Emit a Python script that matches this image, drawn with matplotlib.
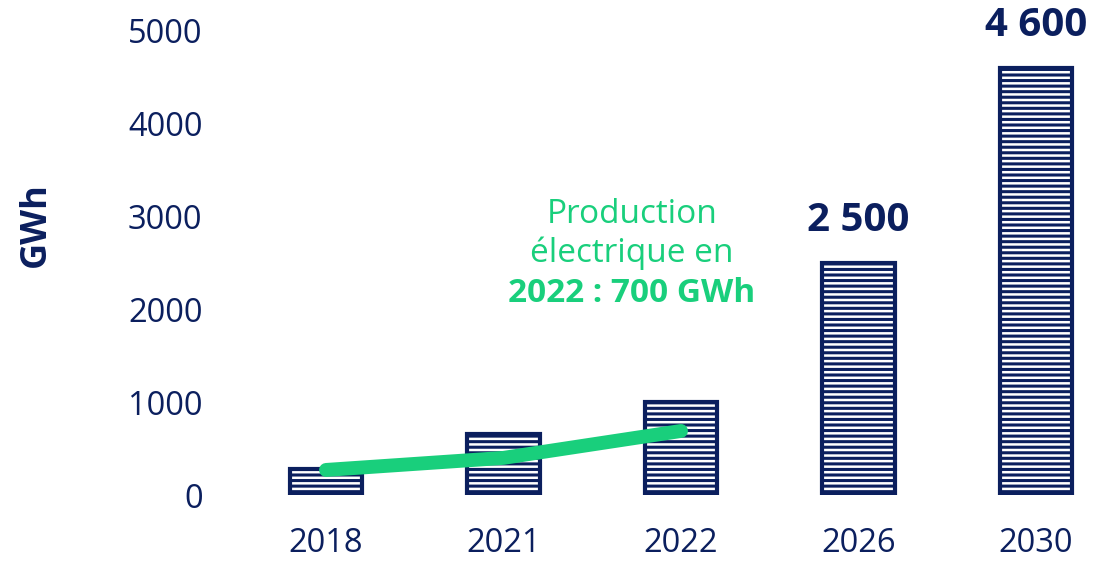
import matplotlib
matplotlib.use("Agg")
import matplotlib.pyplot as plt
from matplotlib import font_manager as fm
import os

years = ["2018", "2021", "2022", "2026", "2030"]
capacity = [280, 660, 1000, 2500, 4600]
labels = {3: "2 500", 4: "4 600"}
prod_years_idx = [0, 1, 2]
production = [270, 400, 690]

navy = "#0B1F5E"
green = "#19CF7C"

files = fm.findSystemFonts()
def pick(pred):
    for f in sorted(files):
        b = os.path.basename(f).lower()
        if pred(b):
            return f
    return None

def plain(b):
    return (b.startswith("opensans") and "condensed" not in b and "semi" not in b
            and "italic" not in b and "extra" not in b and "light" not in b
            and "medium" not in b)

reg = pick(lambda b: plain(b) and "regular" in b) or \
      pick(lambda b: plain(b) and "bold" not in b)
bold = pick(lambda b: plain(b) and b.endswith("bold.ttf"))

fp_reg = fm.FontProperties(fname=reg) if reg else fm.FontProperties(family="Open Sans")
fp_bold = fm.FontProperties(fname=bold) if bold else fm.FontProperties(family="Open Sans", weight="bold")

plt.rcParams['font.family'] = ['Open Sans', 'DejaVu Sans']
plt.rcParams['hatch.linewidth'] = 2.2
plt.rcParams['hatch.color'] = navy

fig = plt.figure(figsize=(10.95, 5.61), dpi=100)
ax = fig.add_axes([240/1095, 1-495/561, (1090-240)/1095, (495-31)/561])

x = list(range(len(years)))
ax.bar(x, capacity, width=0.41, facecolor="white", edgecolor=navy,
       linewidth=3, hatch="---")
ax.plot(prod_years_idx, production, color=green, linewidth=10,
        solid_capstyle="round", solid_joinstyle="round", zorder=5)

def fprop(base, size):
    p = base.copy()
    p.set_size(size)
    return p

for i, t in labels.items():
    ax.text(i, capacity[i] + 250, t, ha="center", va="bottom",
            fontproperties=fprop(fp_bold, 29), color=navy, clip_on=False)

ax.text(1.724, 2931, "Production", ha="center", va="baseline",
        fontproperties=fprop(fp_reg, 24), color=green)
ax.text(1.724, 2511, "électrique en", ha="center", va="baseline",
        fontproperties=fprop(fp_reg, 24), color=green)
ax.text(1.724, 2080, "2022 : 700 GWh", ha="center", va="baseline",
        fontproperties=fprop(fp_bold, 24), color=green)

ax.set_xlim(-0.4845, 4.304)
ax.set_ylim(0, 5000)
ax.set_yticks([0, 1000, 2000, 3000, 4000, 5000])
ax.set_xticks(x)
ax.set_xticklabels(years)
ax.tick_params(axis="both", length=0, labelcolor=navy)
ax.tick_params(axis="y", pad=27)
ax.tick_params(axis="x", pad=23)
for lab in ax.get_xticklabels() + ax.get_yticklabels():
    lab.set_fontproperties(fprop(fp_reg, 23.5))
for s in ax.spines.values():
    s.set_visible(False)
ax.set_ylabel("GWh", fontproperties=fprop(fp_bold, 26), color=navy, labelpad=0)
ax.yaxis.set_label_coords(-(240-54)/850, (495-225)/464)

fig.savefig("out.png", dpi=100)
